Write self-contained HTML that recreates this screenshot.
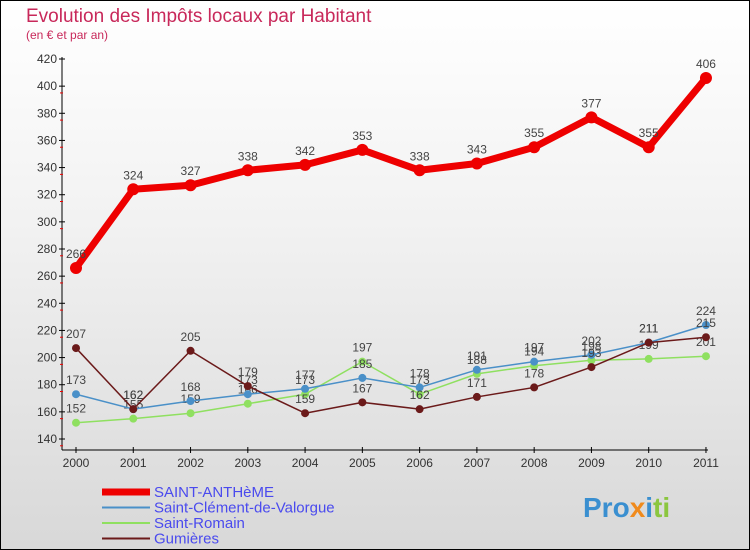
<!DOCTYPE html>
<html><head><meta charset="utf-8"><style>
body{margin:0;width:750px;height:550px;overflow:hidden;font-family:"Liberation Sans",sans-serif}
#wrap{position:absolute;left:0;top:0;width:748px;height:548px;border:1px solid #000;background:linear-gradient(#fff 0%,#f2f2f2 40%,#d8d8d8 100%)}
</style></head><body>
<div id="wrap">
<svg width="750" height="550" style="position:absolute;left:-1px;top:-1px">
<text x="26" y="22" font-size="19" fill="#c8285a">Evolution des Impôts locaux par Habitant</text>
<text x="26" y="39" font-size="12" fill="#c8285a">(en € et par an)</text>
<g id="axes"></g><g id="series"></g><g id="legend"></g>
<text x="583" y="517" font-size="28" font-weight="bold"><tspan fill="#3a8fd0">Pro</tspan><tspan fill="#f08a1c">x</tspan><tspan fill="#3a8fd0">i</tspan><tspan fill="#8bc63f">ti</tspan></text>
</svg>
</div>
<script>
const years=["2000","2001","2002","2003","2004","2005","2006","2007","2008","2009","2010","2011"];
const yTicks=[140,160,180,200,220,240,260,280,300,320,340,360,380,400,420];
const anthemeVals=[266,324,327,338,342,353,338,343,355,377,355,406];
const clementVals=[173,162,168,173,177,185,178,191,197,202,211,224];
const romainVals=[152,155,159,166,173,197,173,188,194,198,199,201];
const gumieresVals=[207,162,205,179,159,167,162,171,178,193,211,215];
const NS="http://www.w3.org/2000/svg";
function X(i){return 76+i*57.27}
function Y(v){return 439-(v-140)*380/280}
function mk(p,t,a){const e=document.createElementNS(NS,t);for(const k in a)e.setAttribute(k,a[k]);p.appendChild(e);return e}
const ax=document.getElementById('axes');
let e=mk(ax,'line',{x1:62,y1:57,x2:62,y2:450,stroke:'#000'});


e=mk(ax,'line',{x1:62,y1:450,x2:708,y2:450,stroke:'#000'});


yTicks.forEach(v=>{const y=Y(v);
mk(ax,'line',{x1:59,y1:y,x2:65,y2:y,stroke:'#000'});
mk(ax,'line',{x1:60,y1:y+13.6/2,x2:63,y2:y+13.6/2,stroke:'#e00'}).setAttribute('opacity',v<420?1:0);
const t=mk(ax,'text',{x:57,y:y+4,'font-size':12,'text-anchor':'end',fill:'#333'});t.textContent=v;

});
years.forEach((yr,i)=>{mk(ax,'line',{x1:X(i),y1:447,x2:X(i),y2:453,stroke:'#000'});
const t=mk(ax,'text',{x:X(i),y:467,'font-size':12,'text-anchor':'middle',fill:'#333'});t.textContent=yr;

});
const sg=document.getElementById('series');
function series(vals,color,w,r,name){
const g=mk(sg,'g',{});


mk(g,'polyline',{points:vals.map((v,i)=>X(i)+','+Y(v)).join(' '),fill:'none',stroke:color,'stroke-width':w,'stroke-linejoin':'round'});
vals.forEach((v,i)=>{const c=mk(g,'circle',{cx:X(i),cy:Y(v),r:r,fill:color});


const t=mk(g,'text',{x:X(i),y:Y(v)-10,'font-size':12,'text-anchor':'middle',fill:'#444'});t.textContent=v;});}
series(romainVals,'#8fe060',1.5,4,'saint-romain-series');
series(clementVals,'#4a90c8',1.5,4,'saint-clement-series');
series(gumieresVals,'#6b1a1a',1.5,4,'gumieres-series');
series(anthemeVals,'#ee0000',7,6,'saint-antheme-series');
const lg=document.getElementById('legend');
[["SAINT-ANTHèME","#ee0000",7],["Saint-Clément-de-Valorgue","#4a90c8",2],["Saint-Romain","#8fe060",2],["Gumières","#6b1a1a",2]].forEach((d,i)=>{
const y=492+i*15.5;
const g=mk(lg,'g',{});


mk(g,'line',{x1:102,y1:y,x2:150,y2:y,stroke:d[1],'stroke-width':d[2]});
const t=mk(g,'text',{x:154,y:y+5,'font-size':15,fill:'#4a4aee'});t.textContent=d[0];});
</script>
</body></html>
